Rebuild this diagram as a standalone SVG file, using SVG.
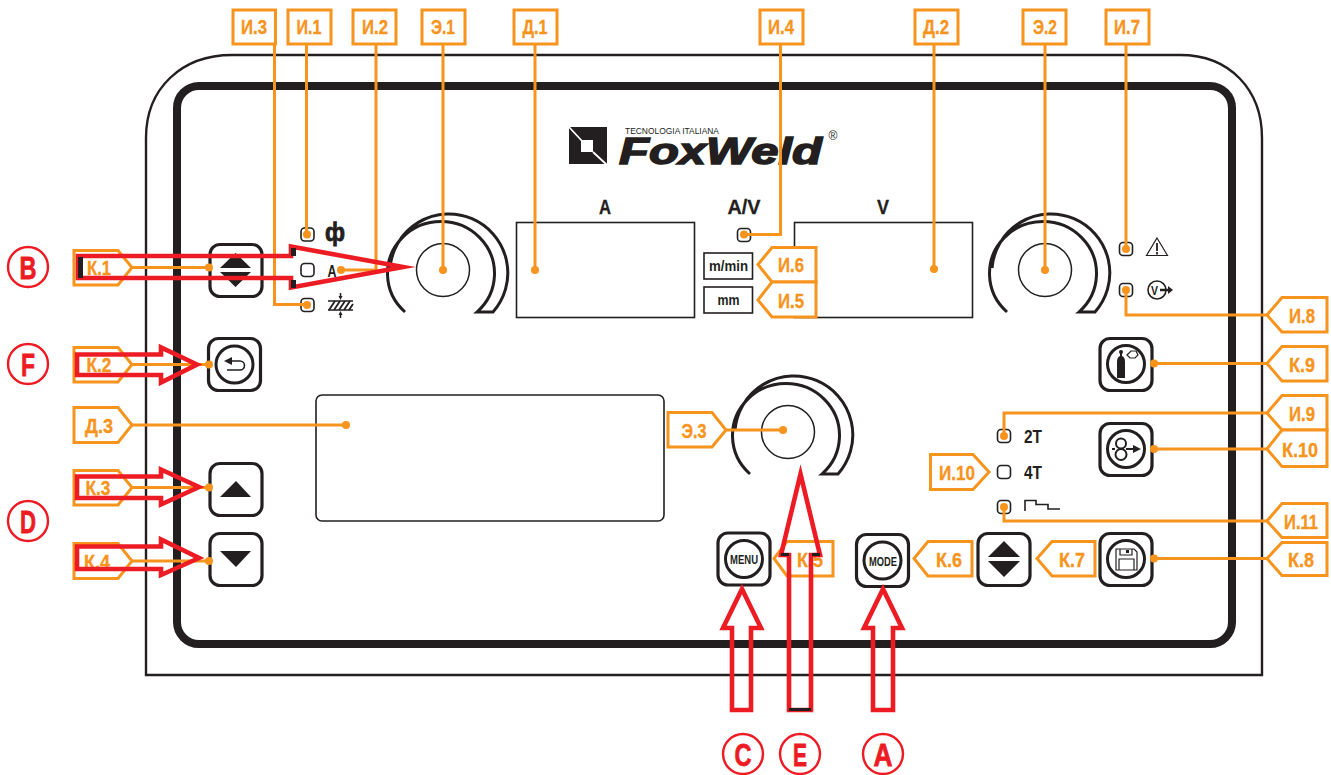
<svg xmlns="http://www.w3.org/2000/svg" width="1331" height="775" viewBox="0 0 1331 775">
<style>
text{font-family:"Liberation Sans",Arial,sans-serif;font-weight:700}
.lab{fill:#fff;stroke:#f7941d;stroke-width:3}
.lt{fill:#f7941d;stroke:#f7941d;stroke-width:.35;font-size:20.500px;text-anchor:middle}
.ln{fill:none;stroke:#f7941d;stroke-width:3}
.dot{fill:#f7941d}
.btn{fill:#fff;stroke:#231f20;stroke-width:3.2}
.ring{fill:#fff;stroke:#231f20;stroke-width:3}
.k{fill:#231f20}
.led{fill:#fff;stroke:#231f20;stroke-width:1.6}
.thin{fill:none;stroke:#231f20;stroke-width:1.6}
.disp{fill:#fff;stroke:#231f20;stroke-width:1.6}
.arr{fill:none;stroke:#ed1c24;stroke-width:4.6;stroke-linejoin:miter;stroke-miterlimit:20}
.circ{fill:#fff;stroke:#ed1c24;stroke-width:2.4}
.cl{fill:#ed1c24;stroke:#ed1c24;stroke-width:.8;font-size:32px;text-anchor:middle}
.dk{fill:#231f20;stroke:#231f20;stroke-width:.3;font-size:20px;text-anchor:middle}
</style>
<defs>
<g id="knob">
<path d="M-38,42 A53.500,52 0 1 1 34,42 L50,42 A59,59 0 1 0 -53,-2" fill="none" stroke="#231f20" stroke-width="3"/>
<circle r="26.500" fill="#fff" stroke="#231f20" stroke-width="1.500"/>
</g>
<rect id="ledb" x="-6.500" y="-6.500" width="13" height="13" rx="3.500" class="led"/>
</defs>

<g id="panel">
<path d="M146,675 V138 C146,88 182,55 232,55 H1180 C1230,55 1262,90 1262,138 V675 Z" fill="#fff" stroke="#231f20" stroke-width="2.400"/>
<rect x="177" y="86" width="1055" height="558" rx="22" fill="#fff" stroke="#231f20" stroke-width="8"/>
</g>

<g id="logo">
<path d="M569,127 H607 V164 H569 Z" fill="#231f20"/>
<rect x="581" y="140" width="12" height="12" fill="#fff"/>
<path d="M569,127 L582,141 M593,152 L607,165" stroke="#fff" stroke-width="1.800"/>
<text x="625" y="134" font-size="9.200" fill="#231f20" textLength="94" lengthAdjust="spacingAndGlyphs" style="font-weight:400">TECNOLOGIA ITALIANA</text>
<text x="619" y="164" font-size="37" fill="#231f20" stroke="#231f20" stroke-width="1.500" font-style="italic" textLength="203" lengthAdjust="spacingAndGlyphs">FoxWeld</text>
<text x="833" y="140" font-size="12" fill="#231f20" text-anchor="middle" style="font-weight:400">®</text>
</g>

<g id="display-a"><rect x="516.500" y="222.500" width="178" height="95" class="disp"/><text x="605" y="214" class="dk" textLength="12" lengthAdjust="spacingAndGlyphs">A</text></g>
<g id="display-v"><rect x="794.500" y="222.500" width="178" height="95" class="disp"/><text x="883" y="214" class="dk" textLength="12" lengthAdjust="spacingAndGlyphs">V</text></g>
<g id="display-av"><text x="744" y="214" class="dk" textLength="33" lengthAdjust="spacingAndGlyphs">A/V</text></g>
<g id="display-3"><rect x="316" y="395" width="348" height="126" rx="6" class="disp"/></g>
<g id="unit-mmin"><rect x="704" y="253" width="48.500" height="26" class="disp"/><text x="728.500" y="271" font-size="14" fill="#231f20" text-anchor="middle" textLength="39" lengthAdjust="spacingAndGlyphs">m/min</text></g>
<g id="unit-mm"><rect x="704" y="287" width="48.500" height="26" class="disp"/><text x="728.500" y="305" font-size="14" fill="#231f20" text-anchor="middle" textLength="22" lengthAdjust="spacingAndGlyphs">mm</text></g>

<g id="knob-1"><use href="#knob" x="443" y="270"/></g>
<g id="knob-2"><use href="#knob" x="1045" y="270"/></g>
<g id="knob-3"><use href="#knob" x="788" y="432"/></g>

<g id="btn-k1"><rect x="210" y="244.500" width="52" height="52" rx="10" class="btn"/><path d="M235.500,253 L251,268 H220 Z M220,272 H251 L235.500,287 Z" class="k"/></g>
<g id="btn-k2"><rect x="208.500" y="338.500" width="52" height="52" rx="10" class="btn"/><circle cx="234.500" cy="364.500" r="18.500" class="ring"/><path d="M228,361 H240 A4.500,4.500 0 0 1 240,370 H227" class="thin"/><path d="M224,361 L232,357 V365 Z" class="k"/></g>
<g id="btn-k3"><rect x="210" y="463.500" width="52" height="52" rx="10" class="btn"/><path d="M236,481 L251,497 H220 Z" class="k"/></g>
<g id="btn-k4"><rect x="210" y="533.500" width="52" height="52" rx="10" class="btn"/><path d="M220,551 H251 L236,567 Z" class="k"/></g>
<g id="btn-menu"><rect x="718" y="533" width="52" height="52" rx="10" class="btn"/><circle cx="744" cy="559" r="18.500" class="ring"/><text x="744" y="564" font-size="13" fill="#231f20" text-anchor="middle" textLength="28" lengthAdjust="spacingAndGlyphs">MENU</text></g>
<g id="btn-mode"><rect x="856.500" y="534.500" width="52" height="52" rx="10" class="btn"/><circle cx="882.500" cy="560.500" r="18.500" class="ring"/><text x="883" y="565.500" font-size="13" fill="#231f20" text-anchor="middle" textLength="28" lengthAdjust="spacingAndGlyphs">MODE</text></g>
<g id="btn-k7"><rect x="978" y="533.500" width="52" height="52" rx="10" class="btn"/><path d="M1004,541 L1020,557 H988 Z M988,561 H1020 L1004,577 Z" class="k"/></g>
<g id="btn-k8"><rect x="1100" y="533.500" width="52" height="52" rx="10" class="btn"/><circle cx="1126" cy="559" r="18.500" class="ring"/><path d="M1116,549 H1134 L1137,552 V570 H1116 Z M1119,559 H1134 V570 H1119 Z M1120,549 V555 H1132 V549" fill="none" stroke="#231f20" stroke-width="1.200"/><rect x="1126" y="550" width="3" height="3" class="k"/></g>
<g id="btn-k9"><rect x="1100" y="338.500" width="52" height="52" rx="10" class="btn"/><circle cx="1126" cy="364" r="18.500" class="ring"/><path d="M1117,378 V362 Q1117,357 1120,356 V353 H1122 V356 Q1125,357 1125,362 V378 Z" class="k"/><circle cx="1121" cy="352" r="2" class="k"/><path d="M1127,355 L1131,351 H1136 L1138,355 L1135,358 H1130 Z" fill="#fff" stroke="#231f20" stroke-width="1.200"/></g>
<g id="btn-k10"><rect x="1100" y="423.500" width="52" height="52" rx="10" class="btn"/><circle cx="1126" cy="449" r="18.500" class="ring"/><circle cx="1121" cy="443.500" r="5" fill="none" stroke="#231f20" stroke-width="2"/><circle cx="1121" cy="454.500" r="5.500" fill="none" stroke="#231f20" stroke-width="2"/><path d="M1112,449 H1115 M1126,449 H1135" stroke="#231f20" stroke-width="2"/><path d="M1141,449 L1133,445 V453 Z" class="k"/></g>

<g id="led-i1"><use href="#ledb" x="307.500" y="234.500"/><text x="335" y="241" font-size="25" fill="#231f20" stroke="#231f20" stroke-width=".8" text-anchor="middle" textLength="20" lengthAdjust="spacingAndGlyphs">ф</text></g>
<g id="led-i2"><use href="#ledb" x="307.500" y="270"/><text x="332" y="276.500" font-size="17" fill="#231f20" text-anchor="middle" textLength="9" lengthAdjust="spacingAndGlyphs">A</text></g>
<g id="led-i3"><use href="#ledb" x="307.500" y="305"/><path d="M328,301 H353 M328,310 H353 M340.500,293 V297 M340.500,314 V318" stroke="#231f20" stroke-width="1.500"/><path d="M329,310 L335,301 M334,310 L340,301 M339,310 L345,301 M344,310 L350,301 M349,310 L353,304" stroke="#231f20" stroke-width="1.800"/><path d="M338.500,296 H342.500 L340.500,300 Z M338.500,315 H342.500 L340.500,311 Z" class="k"/></g>
<g id="led-i4"><use href="#ledb" x="744" y="235"/></g>
<g id="led-i7"><use href="#ledb" x="1126" y="249"/><path d="M1157,238 L1167.500,255.500 H1146.500 Z" fill="none" stroke="#231f20" stroke-width="1.200"/><path d="M1157,243 V251 M1157,252 V254.500" stroke="#231f20" stroke-width="1.800"/></g>
<g id="led-i8"><use href="#ledb" x="1126" y="290"/><circle cx="1157" cy="290" r="9" class="thin"/><text x="1154.500" y="295" font-size="13" fill="#231f20" text-anchor="middle" textLength="7" lengthAdjust="spacingAndGlyphs">V</text><path d="M1160,288.700 H1168 V286 L1173,290 L1168,294 V291.300 H1160 Z" class="k"/></g>
<g id="led-i9"><use href="#ledb" x="1004" y="436"/><text x="1033" y="442.500" font-size="18" fill="#231f20" text-anchor="middle" textLength="18" lengthAdjust="spacingAndGlyphs">2T</text></g>
<g id="led-i10"><use href="#ledb" x="1004" y="472"/><text x="1033" y="478.500" font-size="18" fill="#231f20" text-anchor="middle" textLength="18" lengthAdjust="spacingAndGlyphs">4T</text></g>
<g id="led-i11"><use href="#ledb" x="1004" y="507"/><path d="M1025,511 V500.500 H1036 V504.500 H1048 V509 H1060" class="thin"/></g>

<g id="connectors">
<path class="ln" d="M274.500,44 V304.500 H307"/>
<path class="ln" d="M306.500,44 V234"/>
<path class="ln" d="M376,44 V270 H341"/>
<path class="ln" d="M443,44 V270"/>
<path class="ln" d="M535,44 V270"/>
<path class="ln" d="M780.500,44 V234.500 H745"/>
<path class="ln" d="M934,44 V269"/>
<path class="ln" d="M1045,44 V270"/>
<path class="ln" d="M1126,44 V249"/>
<path class="ln" d="M132,267.500 H209"/>
<path class="ln" d="M132,364.500 H209"/>
<path class="ln" d="M132,425 H346"/>
<path class="ln" d="M132,487.500 H209"/>
<path class="ln" d="M132,561 H209"/>
<path class="ln" d="M727,430 H783"/>
<path class="ln" d="M1267,315 H1126 V290"/>
<path class="ln" d="M1267,363.500 H1154"/>
<path class="ln" d="M1267,413 H1004 V436"/>
<path class="ln" d="M1267,449 H1154"/>
<path class="ln" d="M1267,521 H1004 V507"/>
<path class="ln" d="M1267,558.500 H1154"/>
<g class="dot">
<circle cx="307" cy="234.500" r="4"/><circle cx="341" cy="270" r="4"/><circle cx="307" cy="305" r="4"/><circle cx="443" cy="270" r="4"/><circle cx="535" cy="270" r="4"/><circle cx="744" cy="234.500" r="4"/><circle cx="934" cy="269" r="4"/><circle cx="1045" cy="270" r="4"/><circle cx="1126" cy="249" r="4"/><circle cx="1126" cy="290" r="4"/><circle cx="209" cy="267.500" r="4"/><circle cx="209" cy="364.500" r="4"/><circle cx="346" cy="425" r="4"/><circle cx="209" cy="487.500" r="4"/><circle cx="209" cy="561" r="4"/><circle cx="783" cy="430" r="4"/><circle cx="1154" cy="363.500" r="4"/><circle cx="1004" cy="436" r="4"/><circle cx="1154" cy="449" r="4"/><circle cx="1004" cy="507" r="4"/><circle cx="1154" cy="558.500" r="4"/>
</g>
</g>

<g id="labels">
<g id="l-i3"><rect x="233" y="10" width="42.500" height="34" class="lab"/><text x="254" y="34" class="lt" textLength="26" lengthAdjust="spacingAndGlyphs">И.3</text></g>
<g id="l-i1"><rect x="288" y="10" width="43" height="34" class="lab"/><text x="309" y="34" class="lt" textLength="25" lengthAdjust="spacingAndGlyphs">И.1</text></g>
<g id="l-i2"><rect x="353" y="10" width="43" height="34" class="lab"/><text x="375" y="34" class="lt" textLength="26" lengthAdjust="spacingAndGlyphs">И.2</text></g>
<g id="l-e1"><rect x="422" y="10" width="43" height="34" class="lab"/><text x="443" y="34" class="lt" textLength="24" lengthAdjust="spacingAndGlyphs">Э.1</text></g>
<g id="l-d1"><rect x="514" y="10" width="43" height="34" class="lab"/><text x="535" y="34" class="lt" textLength="25" lengthAdjust="spacingAndGlyphs">Д.1</text></g>
<g id="l-i4"><rect x="760" y="10" width="43" height="34" class="lab"/><text x="781" y="34" class="lt" textLength="26" lengthAdjust="spacingAndGlyphs">И.4</text></g>
<g id="l-d2"><rect x="915" y="10" width="43" height="34" class="lab"/><text x="936" y="34" class="lt" textLength="26" lengthAdjust="spacingAndGlyphs">Д.2</text></g>
<g id="l-e2"><rect x="1023" y="10" width="43" height="34" class="lab"/><text x="1045" y="34" class="lt" textLength="24" lengthAdjust="spacingAndGlyphs">Э.2</text></g>
<g id="l-i7"><rect x="1106" y="10" width="43" height="34" class="lab"/><text x="1127" y="34" class="lt" textLength="26" lengthAdjust="spacingAndGlyphs">И.7</text></g>

<g id="l-k1"><path d="M74,250.500 H118 L132,267.500 L118,285 H74 Z" class="lab"/><text x="99" y="275" class="lt" textLength="24" lengthAdjust="spacingAndGlyphs">К.1</text></g>
<g id="l-k2"><path d="M74,347.500 H118 L132,364.500 L118,382 H74 Z" class="lab"/><text x="99" y="372" class="lt" textLength="25" lengthAdjust="spacingAndGlyphs">К.2</text></g>
<g id="l-d3"><path d="M74,407.500 H118 L132,425 L118,442.500 H74 Z" class="lab"/><text x="99" y="433" class="lt" textLength="28" lengthAdjust="spacingAndGlyphs">Д.3</text></g>
<g id="l-k3"><path d="M74,470.500 H118 L132,487.500 L118,505 H74 Z" class="lab"/><text x="98" y="495" class="lt" textLength="25" lengthAdjust="spacingAndGlyphs">К.3</text></g>
<g id="l-k4"><path d="M74,543.500 H118 L132,561 L118,578.500 H74 Z" class="lab"/><text x="97" y="569" class="lt" textLength="26" lengthAdjust="spacingAndGlyphs">К.4</text></g>
<g id="l-e3"><path d="M668,412.500 H712 L726,430 L712,447 H668 Z" class="lab"/><text x="694" y="438" class="lt" textLength="25" lengthAdjust="spacingAndGlyphs">Э.3</text></g>
<g id="l-i6"><path d="M816,247.500 H772 L758,264.500 L772,282 H816 Z" class="lab"/><text x="791" y="272" class="lt" textLength="26" lengthAdjust="spacingAndGlyphs">И.6</text></g>
<g id="l-i5"><path d="M816,282 H772 L758,300 L772,317 H816 Z" class="lab"/><text x="791" y="308" class="lt" textLength="26" lengthAdjust="spacingAndGlyphs">И.5</text></g>
<g id="l-k5"><path d="M833,541.500 H787 L774,558.500 L787,576 H833 Z" class="lab"/><text x="810" y="567" class="lt" textLength="26" lengthAdjust="spacingAndGlyphs">К.5</text></g>
<g id="l-k6"><path d="M972,541.500 H928 L914,558.500 L928,576 H972 Z" class="lab"/><text x="949" y="567" class="lt" textLength="26" lengthAdjust="spacingAndGlyphs">К.6</text></g>
<g id="l-k7"><path d="M1095,541.500 H1052 L1037,558.500 L1052,576 H1095 Z" class="lab"/><text x="1072" y="567" class="lt" textLength="26" lengthAdjust="spacingAndGlyphs">К.7</text></g>
<g id="l-i10"><path d="M930.500,454.500 H973 L989,472 L973,489.500 H930.500 Z" class="lab"/><text x="957" y="480" class="lt" textLength="36" lengthAdjust="spacingAndGlyphs">И.10</text></g>
<g id="l-i8"><path d="M1327,297.500 H1282 L1267,315 L1282,332 H1327 Z" class="lab"/><text x="1302" y="323" class="lt" textLength="26" lengthAdjust="spacingAndGlyphs">И.8</text></g>
<g id="l-k9"><path d="M1327,346.500 H1282 L1267,363.500 L1282,381 H1327 Z" class="lab"/><text x="1302" y="372" class="lt" textLength="26" lengthAdjust="spacingAndGlyphs">К.9</text></g>
<g id="l-i9"><path d="M1327,395.500 H1282 L1267,413 L1282,430 H1327 Z" class="lab"/><text x="1302" y="421" class="lt" textLength="26" lengthAdjust="spacingAndGlyphs">И.9</text></g>
<g id="l-k10"><path d="M1327,430 H1282 L1267,449 L1282,466.500 H1327 Z" class="lab"/><text x="1300" y="457" class="lt" textLength="36" lengthAdjust="spacingAndGlyphs">К.10</text></g>
<g id="l-i11"><path d="M1327,503.500 H1282 L1267,521 L1282,537.500 H1327 Z" class="lab"/><text x="1301" y="529" class="lt" textLength="34" lengthAdjust="spacingAndGlyphs">И.11</text></g>
<g id="l-k8"><path d="M1327,542.500 H1282 L1267,558.500 L1282,575.500 H1327 Z" class="lab"/><text x="1301" y="567" class="lt" textLength="26" lengthAdjust="spacingAndGlyphs">К.8</text></g>
</g>

<g id="red-arrows">
<path class="arr" d="M78,256 H291 V246.500 L403,267 L291,287.500 V278 H78 Z"/>
<path class="k" d="M78,257 h5 v21 h-5 Z M291,248 h5 v8 h-5 Z M291,280 h5 v8 h-5 Z"/>
<path class="arr" d="M77,354.500 H161 V347.500 L197,364.500 L161,382.500 V375 H77 Z"/>
<path class="arr" d="M77,476.500 H161 V469.500 L199,487 L161,504.500 V498 H77 Z"/>
<path class="arr" d="M77,546.500 H161 V539.500 L199,558 L161,575 V569 H77 Z"/>
<path class="arr" d="M732,710 V628 H723 L742,589 L761,628 H751 V710 Z"/>
<path class="arr" d="M873,710 V628 H864 L883,589 L902,628 H893 V710 Z"/>
<path class="arr" d="M789,710 V555 H781 L800.500,474 L820,555 H811 V710 Z"/>
<path class="k" d="M781,553 h8 v3 h-8 Z M812,553 h8 v3 h-8 Z M789,708 h22 v3 h-22 Z"/>
</g>

<g id="callouts">
<g id="c-b"><circle cx="28" cy="267" r="20" class="circ"/><text x="28" y="278.500" class="cl" textLength="17" lengthAdjust="spacingAndGlyphs">B</text></g>
<g id="c-f"><circle cx="28" cy="364" r="20" class="circ"/><text x="28" y="375.500" class="cl" textLength="14" lengthAdjust="spacingAndGlyphs">F</text></g>
<g id="c-d"><circle cx="28" cy="521" r="20" class="circ"/><text x="28" y="532.500" class="cl" textLength="16" lengthAdjust="spacingAndGlyphs">D</text></g>
<g id="c-c"><circle cx="743" cy="754" r="20" class="circ"/><text x="743" y="765.500" class="cl" textLength="17" lengthAdjust="spacingAndGlyphs">C</text></g>
<g id="c-e"><circle cx="800" cy="754" r="20" class="circ"/><text x="800" y="765.500" class="cl" textLength="14" lengthAdjust="spacingAndGlyphs">E</text></g>
<g id="c-a"><circle cx="883" cy="754" r="20" class="circ"/><text x="883" y="765.500" class="cl" textLength="19" lengthAdjust="spacingAndGlyphs">A</text></g>
</g>
</svg>
